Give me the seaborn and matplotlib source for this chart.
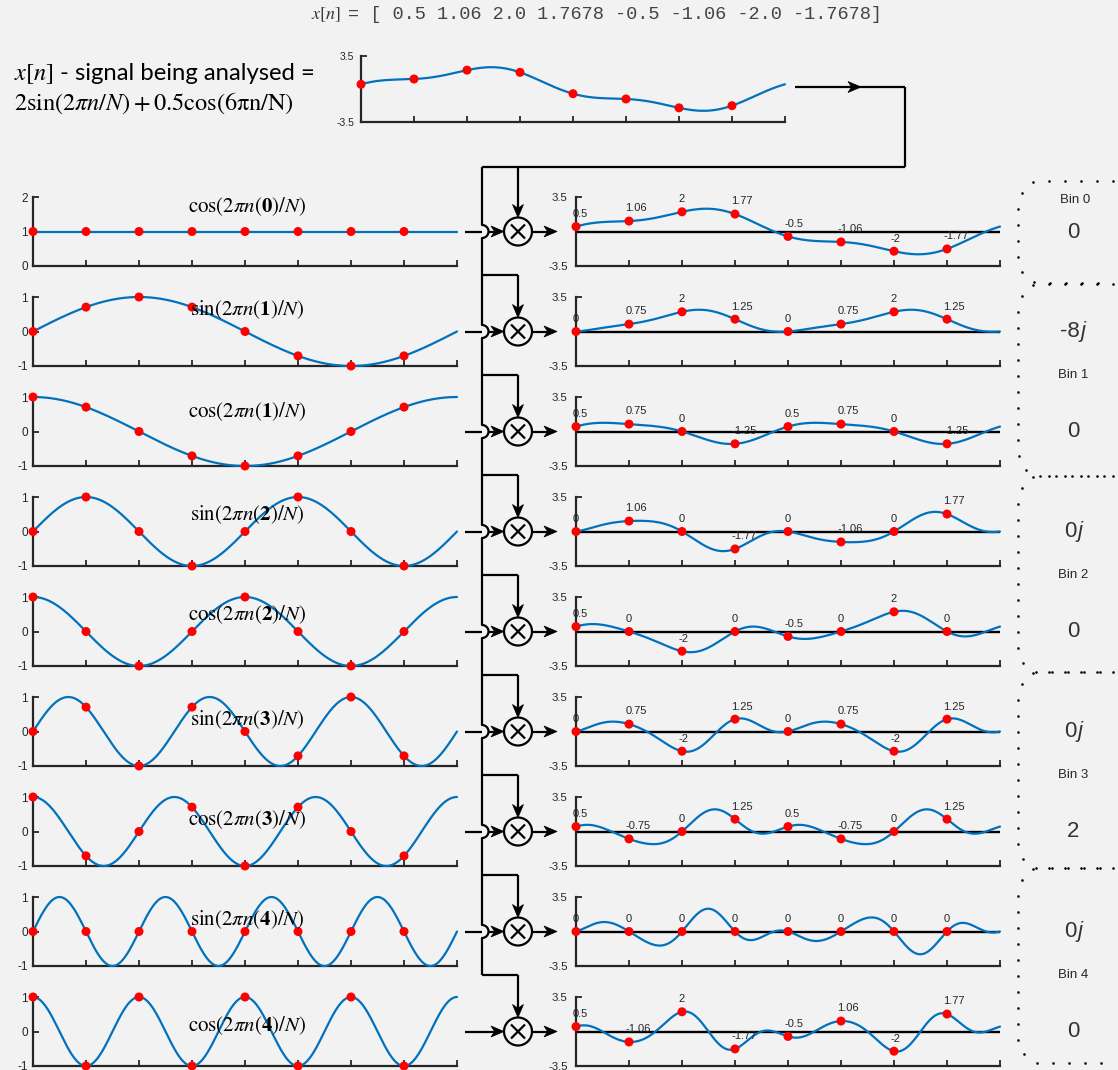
import numpy as np
import matplotlib
matplotlib.use("Agg")
import matplotlib.pyplot as plt
import seaborn as sns
from matplotlib.patches import Circle, Polygon

# ---------------------------------------------------------------- data
N = 8
n_idx = [0, 1, 2, 3, 4, 5, 6, 7]
signal = [0.5, 1.06, 2.0, 1.7678, -0.5, -1.06, -2.0, -1.7678]
signal_text = ["0.5", "1.06", "2.0", "1.7678", "-0.5", "-1.06", "-2.0", "-1.7678"]
# x[n] = 2 sin(2*pi*n/N) + 0.5 cos(6*pi*n/N)
signal_terms = [(2.0, "sin", 1), (0.5, "cos", 3)]

basis_kind = ["cos", "sin", "cos", "sin", "cos", "sin", "cos", "sin", "cos"]
basis_freq = [0, 1, 1, 2, 2, 3, 3, 4, 4]
basis_samples = [
    [1, 1, 1, 1, 1, 1, 1, 1],
    [0, 0.707, 1, 0.707, 0, -0.707, -1, -0.707],
    [1, 0.707, 0, -0.707, -1, -0.707, 0, 0.707],
    [0, 1, 0, -1, 0, 1, 0, -1],
    [1, 0, -1, 0, 1, 0, -1, 0],
    [0, 0.707, -1, 0.707, 0, -0.707, 1, -0.707],
    [1, -0.707, 0, 0.707, -1, 0.707, 0, -0.707],
    [0, 0, 0, 0, 0, 0, 0, 0],
    [1, -1, 1, -1, 1, -1, 1, -1],
]
products = [
    [0.5, 1.06, 2, 1.77, -0.5, -1.06, -2, -1.77],
    [0, 0.75, 2, 1.25, 0, 0.75, 2, 1.25],
    [0.5, 0.75, 0, -1.25, 0.5, 0.75, 0, -1.25],
    [0, 1.06, 0, -1.77, 0, -1.06, 0, 1.77],
    [0.5, 0, -2, 0, -0.5, 0, 2, 0],
    [0, 0.75, -2, 1.25, 0, 0.75, -2, 1.25],
    [0.5, -0.75, 0, 1.25, 0.5, -0.75, 0, 1.25],
    [0, 0, 0, 0, 0, 0, 0, 0],
    [0.5, -1.06, 2, -1.77, -0.5, 1.06, -2, 1.77],
]
bin_names = ["Bin 0", "Bin 1", "Bin 2", "Bin 3", "Bin 4"]
bin_real = ["0", "0", "0", "2", "0"]
bin_imag = [None, "-8", "0", "0", "0"]

# ---------------------------------------------------------------- style
BG = "#f2f2f2"
BLUE = "#0072bd"
RED = "#ff0000"
INK = "#262626"
LW = 1.6

sns.set_theme(style="ticks", rc={"figure.facecolor": BG, "axes.facecolor": BG})
plt.rcParams["font.family"] = ["Liberation Sans", "DejaVu Sans"]
plt.rcParams["mathtext.fontset"] = "stix"
plt.rcParams["axes.unicode_minus"] = False

W, H = 1118, 1070
ROW_TOP0, ROW_STEP, ROW_H = 197, 100, 69
LEFT_X, RIGHT_X, AX_W = 33, 576, 424

fig = plt.figure(figsize=(W / 100, H / 100), dpi=100, facecolor=BG)


def px_axes(x0, top, w, h):
    return fig.add_axes([x0 / W, 1 - (top + h) / H, w / W, h / H])


def style(ax, ylim, yticks, labelsize=8.5, pad=3.5):
    ax.set_xlim(0, N)
    ax.set_ylim(*ylim)
    ax.set_xticks(range(N + 1))
    ax.set_xticklabels([])
    ax.set_yticks(yticks)
    ax.set_yticklabels([f"{v:g}" for v in yticks])
    for s in ("top", "right"):
        ax.spines[s].set_visible(False)
    for s in ("left", "bottom"):
        ax.spines[s].set_linewidth(LW)
        ax.spines[s].set_color(INK)
    ax.tick_params(direction="in", length=4.5, width=1.3, color=INK,
                   labelcolor=INK, labelsize=labelsize, pad=pad)
    ax.set_facecolor("none")
    ax.set_xlabel("")
    ax.set_ylabel("")


def wave(kind, k, tt):
    f = np.cos if kind == "cos" else np.sin
    return f(2 * np.pi * k * tt / N)


def draw_series(ax, curve, samples):
    sns.lineplot(x=t, y=curve, ax=ax, color=BLUE, linewidth=1.6,
                 sort=False, estimator=None, clip_on=False, zorder=3)
    sns.scatterplot(x=n_idx, y=samples, ax=ax, color=RED, s=42,
                    edgecolor="none", linewidth=0, zorder=5, clip_on=False)


t = np.linspace(0, N, 600)
sig_curve = sum(a * wave(kd, k, t) for a, kd, k in signal_terms)

# overlay in pixel coordinates for text, connectors and brackets
ov = fig.add_axes([0, 0, 1, 1])
ov.set_xlim(0, W)
ov.set_ylim(H, 0)
ov.axis("off")
ov.set_zorder(10)
renderer = fig.canvas.get_renderer()


def text_run(x, y, pieces, ha="left", va="baseline"):
    objs, gaps = [], []
    for s, kw, gap in pieces:
        objs.append(ov.text(0, y, s, ha="left", va=va, **kw))
        gaps.append(gap)
    widths = [o.get_window_extent(renderer).width for o in objs]
    total = sum(widths) + sum(gaps[:-1])
    x0 = x - total / 2 if ha == "center" else x
    for o, w_, g in zip(objs, widths, gaps):
        o.set_x(x0)
        x0 += w_ + g


# ---------------------------------------------------------------- header
mono = dict(family="Liberation Mono", fontsize=13.4, color="#444444")
text_run(311, 19, [(r"$x[n]$", dict(fontsize=13, color="#333333"), 7),
                   ("= [ " + " ".join(signal_text) + "]", mono, 0)])

text_run(14, 80, [(r"$x[n]$", dict(fontsize=17.5, color="black"), 6),
                  ("- signal being analysed =",
                   dict(family="Lato", fontsize=17.2, color="black"), 0)])
ov.text(14, 110, r"$2\mathrm{sin}(2\pi n/N) + 0.5\mathrm{cos(6\pi n/N)}$",
        fontsize=17.5, color="black", ha="left", va="baseline")

# ---------------------------------------------------------------- signal axes
ax = px_axes(361, 56, AX_W, 66)
style(ax, (-3.5, 3.5), [-3.5, 3.5], labelsize=7.5, pad=5)
ax.set_xticks(range(1, N + 1))
ax.set_xticklabels([])
draw_series(ax, sig_curve, signal)

# ---------------------------------------------------------------- rows
title_y = [207, 310, 412, 515, 615, 720, 820, 920, 1026]
for r in range(9):
    top = ROW_TOP0 + ROW_STEP * r
    kind, k = basis_kind[r], basis_freq[r]
    basis = wave(kind, k, t)

    axl = px_axes(LEFT_X, top, AX_W, ROW_H)
    if r == 0:
        style(axl, (0, 2), [0, 1, 2])
    else:
        style(axl, (-1, 1), [-1, 0, 1])
    draw_series(axl, basis, basis_samples[r])
    ov.text(247, title_y[r],
            r"$\mathrm{%s}\left(2\pi n(\mathbf{%d})/N\right)$" % (kind, k),
            fontsize=15, ha="center", va="center", color="black", zorder=12)

    axr = px_axes(RIGHT_X, top, AX_W, ROW_H)
    style(axr, (-3.5, 3.5), [-3.5, 3.5], labelsize=8.2, pad=6)
    axr.axhline(0, color="black", lw=1.7, zorder=2)
    draw_series(axr, sig_curve * basis, products[r])
    for n, v in zip(n_idx, products[r]):
        axr.annotate(f"{v:g}", (n, v), xytext=(-2.5, 5.5),
                     textcoords="offset points", ha="left", va="bottom",
                     fontsize=8, color=INK, zorder=8, annotation_clip=False)


# ---------------------------------------------------------------- connectors
def seg(xs, ys):
    ov.plot(xs, ys, color="black", lw=LW, solid_capstyle="butt", zorder=11)


def head(tx, ty, dx, dy, L=13.0, hw=5.5):
    bx, by = tx - dx * L, ty - dy * L
    px_, py_ = -dy, dx
    mx, my = tx - dx * L * 0.72, ty - dy * L * 0.72
    ov.add_patch(Polygon([(tx, ty), (bx + px_ * hw, by + py_ * hw), (mx, my),
                          (bx - px_ * hw, by - py_ * hw)], closed=True,
                         facecolor="black", edgecolor="black", lw=0.5, zorder=11))


BUS_X, MUL_X, R_MUL, HOP = 482, 518, 14, 6.5
centers = [ROW_TOP0 + ROW_STEP * r + ROW_H / 2 for r in range(9)]
branch_y = [167] + [175 + ROW_STEP * r for r in range(1, 9)]

seg([795, 905], [87, 87])
head(861, 87, 1, 0)
seg([905, 905], [87, 167])
seg([905, BUS_X], [167, 167])

# vertical bus with hops over each input line
ys = [167]
for cy in centers[:8]:
    ys += [cy - HOP, cy + HOP]
ys.append(branch_y[-1])
for a, b in zip(ys[0::2], ys[1::2]):
    seg([BUS_X, BUS_X], [a, b])

th = np.linspace(-np.pi / 2, np.pi / 2, 40)
for r, cy in enumerate(centers):
    by = branch_y[r]
    if r > 0:
        seg([BUS_X, MUL_X], [by, by])
    seg([MUL_X, MUL_X], [by, cy - R_MUL - 6])
    head(MUL_X, cy - R_MUL, 0, 1)
    if r < 8:
        ov.plot(BUS_X + HOP * np.cos(th), cy + HOP * np.sin(th), color="black",
                lw=LW, zorder=11)
        seg([465, BUS_X], [cy, cy])
        seg([BUS_X + HOP, MUL_X - R_MUL - 6], [cy, cy])
    else:
        seg([465, MUL_X - R_MUL - 6], [cy, cy])
    head(MUL_X - R_MUL, cy, 1, 0)
    ov.add_patch(Circle((MUL_X, cy), R_MUL, fill=False, lw=LW,
                        edgecolor="black", zorder=11))
    d = 7
    seg([MUL_X - d, MUL_X + d], [cy - d, cy + d])
    seg([MUL_X - d, MUL_X + d], [cy + d, cy - d])
    seg([MUL_X + R_MUL, 550], [cy, cy])
    head(557, cy, 1, 0)


# ---------------------------------------------------------------- bins
def bracket(top, bot, xl=1018, xc=1040, xr=1113, ry=28, step=16):
    rx = xc - xl
    a = np.linspace(np.pi / 2, np.pi, 40)
    b = np.linspace(np.pi, 1.5 * np.pi, 40)
    pts = np.vstack([
        np.column_stack([np.linspace(xr, xc, 40), np.full(40, top)]),
        np.column_stack([xc + rx * np.cos(a), top + ry - ry * np.sin(a)]),
        np.column_stack([np.full(40, xl), np.linspace(top + ry, bot - ry, 40)]),
        np.column_stack([xc + rx * np.cos(b), bot - ry - ry * np.sin(b)]),
        np.column_stack([np.linspace(xc, xr, 40), np.full(40, bot)]),
    ])
    s = np.concatenate([[0], np.cumsum(np.hypot(*np.diff(pts, axis=0).T))])
    q = np.arange(0, s[-1] + 0.1, step)
    ov.scatter(np.interp(q, s, pts[:, 0]), np.interp(q, s, pts[:, 1]),
               s=3.5, color="black", linewidths=0, zorder=11)


bracket_tops = [181, 284, 476, 672, 868]
bracket_bots = [283, 476, 672, 868, 1063]
for b in range(5):
    bracket(bracket_tops[b], bracket_bots[b])

big = dict(fontsize=16, color="#333333")
ov.text(1075, 200, bin_names[0], fontsize=9.5, color=INK, ha="center", va="center")
ov.text(1073, 232, bin_real[0], ha="center", va="center", **big)
for b in range(1, 5):
    c_im = centers[2 * b - 1]
    c_re = centers[2 * b]
    text_run(1073, c_im, [(bin_imag[b], big, 1),
                          ("j", dict(style="italic", **big), 0)],
             ha="center", va="center")
    ov.text(1073, c_im + 43, bin_names[b], fontsize=9.5, color=INK,
            ha="center", va="center")
    ov.text(1073, c_re, bin_real[b], ha="center", va="center", **big)

fig.savefig("out.png", dpi=100, facecolor=BG)
